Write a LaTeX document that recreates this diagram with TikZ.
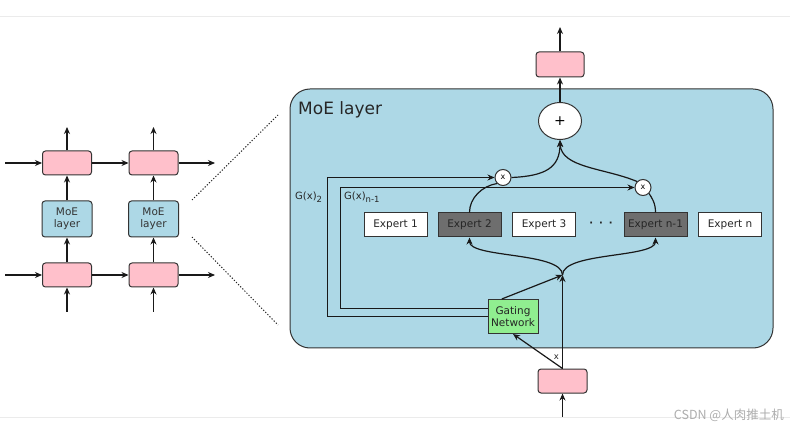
\documentclass[tikz,border=0pt]{standalone}
\usepackage{fontspec}
\setmainfont{DejaVu Sans}
\newfontfamily\cjkfont{Noto Sans CJK SC}
\usetikzlibrary{arrows.meta,shapes.geometric,calc}
\definecolor{pinkbox}{HTML}{FFC0CB}
\definecolor{moeblue}{HTML}{ADD8E6}
\definecolor{gategreen}{HTML}{90EE90}
\definecolor{expdark}{HTML}{6E6E6E}
\definecolor{edge}{HTML}{333333}
\newcommand{\lowsub}[1]{\raisebox{-3pt}{\fontsize{8.5}{10}\selectfont #1}}
\tikzset{
  pinkb/.style={draw=edge,fill=pinkbox,rounded corners=3pt,minimum width=49pt,minimum height=24pt,inner sep=0pt,line width=1pt},
  moeb/.style={draw=edge,fill=moeblue,rounded corners=3pt,minimum width=50pt,minimum height=36pt,inner sep=0pt,line width=1pt,align=center,font=\fontsize{10.5}{12.5}\selectfont,text=black!80},
  expb/.style={draw=edge,fill=white,minimum width=63pt,minimum height=24pt,inner sep=0pt,line width=1pt,font=\fontsize{10.5}{12}\selectfont,text=black!85},
  expd/.style={expb,fill=expdark},
  gateb/.style={draw=edge,fill=gategreen,minimum width=50pt,minimum height=34pt,inner sep=0pt,line width=1pt,align=center,font=\fontsize{10.5}{12.5}\selectfont,text=black!85},
  multc/.style={circle,draw=edge,fill=white,minimum size=16pt,inner sep=0pt,line width=1pt,font=\fontsize{8}{9}\selectfont},
  plusc/.style={ellipse,draw=edge,fill=white,minimum width=43pt,minimum height=37pt,inner sep=0pt,line width=1pt,font=\fontsize{14}{16}\selectfont},
  conn/.style={draw=black!90,line width=1.2pt},
  arr/.style={conn,-{Stealth[length=7pt,width=6pt]}},
  thinarr/.style={arr,line width=1pt},
  lbl/.style={font=\fontsize{10}{12}\selectfont,text=black!85,inner sep=0pt}
}
\begin{document}
\begin{tikzpicture}[x=1pt,y=-1pt]
\useasboundingbox (0,0) rectangle (790,430);
\fill[white] (0,0) rectangle (790,430);
% page lines
\draw[black!8,line width=1pt] (0,17) -- (790,17);
\draw[black!8,line width=1pt] (0,417) -- (790,417);

% ---------- left part ----------
\node[pinkb] (p1) at (67,163) {};
\node[pinkb] (p2) at (153.5,163) {};
\node[moeb] (l1) at (67,219) {MoE\\layer};
\node[moeb] (l2) at (153.5,219) {MoE\\layer};
\node[pinkb] (q1) at (67,275) {};
\node[pinkb] (q2) at (153.5,275) {};
\coordinate (ina) at (5,163);
\coordinate (outa) at (215,163);
\coordinate (inb) at (5,275);
\coordinate (outb) at (215,275);
\coordinate (t1) at (67,127);
\coordinate (t2) at (153.5,127);
\coordinate (b1) at (67,312);
\coordinate (b2) at (153.5,312);
\draw[arr] (ina) -- (p1);
\draw[arr] (p1) -- (p2);
\draw[arr] (p2) -- (outa);
\draw[arr] (inb) -- (q1);
\draw[arr] (q1) -- (q2);
\draw[arr] (q2) -- (outb);
\draw[arr] (b1) -- (q1);
\draw[arr] (b2) -- (q2);
\draw[arr] (q1) -- (l1);
\draw[arr] (q2) -- (l2);
\draw[arr] (l1) -- (p1);
\draw[arr] (l2) -- (p2);
\draw[arr] (p1) -- (t1);
\draw[arr] (p2) -- (t2);

% dotted zoom lines
\coordinate (za) at (192,200);
\coordinate (zb) at (278,115);
\coordinate (zc) at (192,237);
\coordinate (zd) at (278,325);
\draw[black!85,line width=1pt,dash pattern=on 1.2pt off 1.8pt] (za) -- (zb);
\draw[black!85,line width=1pt,dash pattern=on 1.2pt off 1.8pt] (zc) -- (zd);

% ---------- MoE layer ----------
\draw[draw=edge,fill=moeblue,line width=1pt,rounded corners=20pt] (290,89) rectangle (773,348);
\node[anchor=base west,inner sep=0pt,font=\fontsize{17}{20}\selectfont,text=black!85] (title) at (298,115) {MoE layer};

\node[pinkb,minimum width=48pt,minimum height=25pt] (top) at (560,64.5) {};
\coordinate (topend) at (560,27);
\node[plusc] (plus) at (560,121) {+};
\draw[arr] (plus) -- (top);
\draw[arr] (top) -- (topend);

\node[multc] (mx1) at (503,177.5) {x};
\node[multc] (mx2) at (643,187.5) {x};

\node[expb] (e1) at (395.5,225) {Expert 1};
\node[expd] (e2) at (469.5,225) {Expert 2};
\node[expb] (e3) at (544,225) {Expert 3};
\node[lbl,font=\bfseries\fontsize{10}{12}\selectfont] (dots) at (601,224) {·\hspace{6pt}·\hspace{6pt}·};
\node[expd] (en1) at (655.5,225) {Expert n-1};
\node[expb] (en) at (730,225) {Expert n};

\node[gateb] (gate) at (513,316.5) {Gating\\Network};
\node[pinkb] (bp) at (562.5,381) {};
\coordinate (bin) at (562.5,417);
\coordinate (M) at (562.5,275);

% input
\draw[arr] (bin) -- (bp);
\draw[arr] (bp.north) -- (M);
\draw[arr] (bp.north) -- (gate.south);
\node[lbl,font=\fontsize{8.5}{9}\selectfont] (xl) at (556.5,357) {x};
\draw[arr] ($(gate.north west)!0.28!(gate.north east)$) -- (M);

% split to experts
\draw[arr] (M) .. controls (562.5,252) and (469.5,258) .. (e2.south);
\draw[arr] (M) .. controls (562.5,252) and (655.5,258) .. (en1.south);

% expert outputs to multipliers
\draw[conn] (e2.north) .. controls (469.5,198) and (482,186) .. (mx1.south west);
\draw[conn] (en1.north) .. controls (655.5,203) and (652,198) .. (mx2.south east);

% multipliers to sum
\draw[arr] (mx1.east) .. controls (545,176) and (560,168) .. (plus.south);
\draw[arr] (mx2.north west) .. controls (605,168) and (561,168) .. (plus.south);

% gating weights
\draw[thinarr] (gate.west) -- (327.5,316.5) |- (mx1.west);
\draw[thinarr] ($(gate.west)+(0,-8)$) -- (340.5,308.5) |- (mx2.west);
\node[lbl,anchor=west] (g2) at (295,197) {G(x)\lowsub{2}};
\node[lbl,anchor=west] (gn) at (344,197) {G(x)\lowsub{n-1}};

% watermark
\node[anchor=east,inner sep=0pt,text=black!32,font=\cjkfont\fontsize{12.5}{14}\selectfont] (wm) at (784,415) {CSDN @人肉推土机};
\end{tikzpicture}
\end{document}
